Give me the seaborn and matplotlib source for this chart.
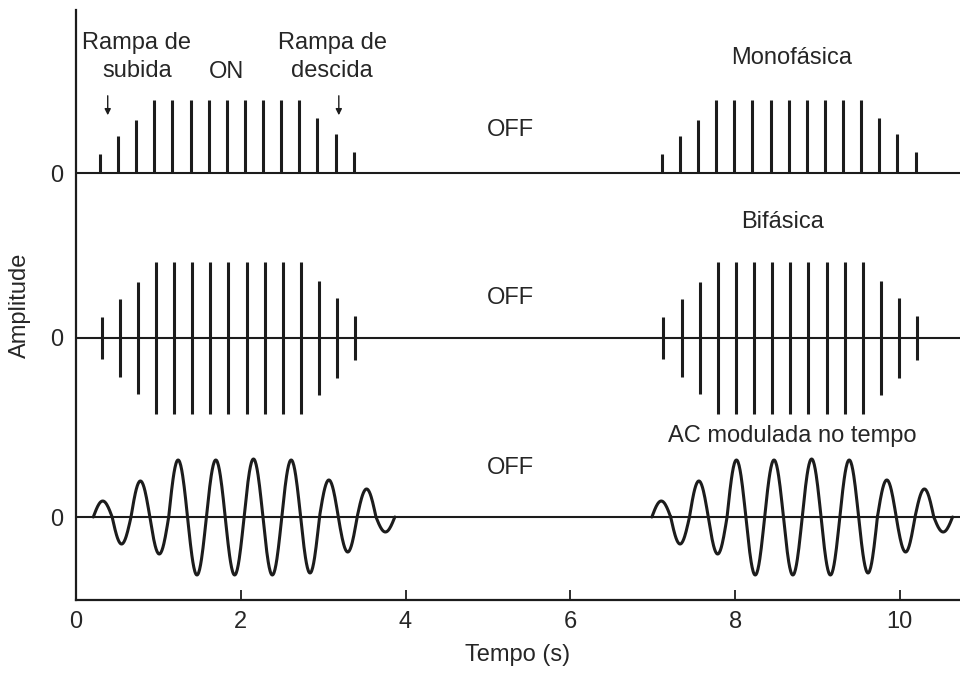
import numpy as np
import pandas as pd
import matplotlib
matplotlib.use('Agg')
import matplotlib.pyplot as plt
import seaborn as sns

# pulse times (s)
mono_left_t = [0.29, 0.51, 0.73, 0.95, 1.17, 1.39, 1.61, 1.83, 2.05, 2.27, 2.49, 2.71, 2.93, 3.15, 3.37]
mono_right_t = [7.11, 7.33, 7.55, 7.77, 7.99, 8.21, 8.43, 8.65, 8.87, 9.09, 9.31, 9.53, 9.75, 9.97, 10.19]
mono_h = [0.19, 0.37, 0.53, 0.73, 0.73, 0.73, 0.73, 0.73, 0.73, 0.73, 0.73, 0.73, 0.55, 0.39, 0.21]

bi_left_t = [0.31, 0.53, 0.75, 0.97, 1.19, 1.41, 1.63, 1.85, 2.07, 2.29, 2.51, 2.73, 2.95, 3.17, 3.39]
bi_right_t = [7.13, 7.35, 7.57, 7.79, 8.01, 8.23, 8.45, 8.67, 8.89, 9.11, 9.33, 9.55, 9.77, 9.99, 10.21]
bi_h = [0.21, 0.39, 0.56, 0.76, 0.76, 0.76, 0.76, 0.76, 0.76, 0.76, 0.76, 0.76, 0.57, 0.40, 0.22]

# AC burst: peak of each half cycle, start/end of each burst
ac_amp = [0.16, 0.27, 0.36, 0.37, 0.57, 0.58, 0.57, 0.58, 0.58, 0.58, 0.57, 0.56, 0.37, 0.35, 0.28, 0.15]
ac_start = [0.21, 6.99]
ac_end = [3.87, 10.64]

# trace baselines (amplitude axis offsets)
base_mono, base_bi, base_ac = 4.27, 2.62, 0.83
ink = '#1c1c1c'

sns.set_theme(style='ticks')
plt.rcParams['font.family'] = ['Liberation Sans', 'DejaVu Sans']

fig = plt.figure(figsize=(9.6, 6.73), dpi=100)
ax = fig.add_axes([76 / 960, 73 / 673, 884 / 960, 590 / 673])

# baselines
for b in (base_mono, base_bi, base_ac):
    ax.axhline(b, color=ink, lw=1.5, zorder=1)

# monophasic pulses
for t in (mono_left_t, mono_right_t):
    ax.vlines(t, base_mono, base_mono + np.array(mono_h), color=ink, lw=2.2)

# biphasic pulses
for t in (bi_left_t, bi_right_t):
    h = np.array(bi_h)
    ax.vlines(t, base_bi - h, base_bi + h, color=ink, lw=2.2)

# AC modulated bursts, one sine lobe per half cycle
rows = []
for i, (t0, t1) in enumerate(zip(ac_start, ac_end)):
    w = (t1 - t0) / len(ac_amp)
    for k, a in enumerate(ac_amp):
        tt = np.linspace(t0 + k * w, t0 + (k + 1) * w, 40)
        yy = (-1) ** k * a * np.sin(np.pi * (tt - (t0 + k * w)) / w)
        for x, y in zip(tt, yy):
            rows.append((i, x, y + base_ac))
ac = pd.DataFrame(rows, columns=['burst', 't', 'y'])
for i, g in ac.groupby('burst'):
    sns.lineplot(data=g, x='t', y='y', ax=ax, color=ink, lw=2.2,
                 sort=False, estimator=None)

# annotations
fs = 17
ax.text(0.74, 5.43, 'Rampa de\nsubida', ha='center', va='center', fontsize=fs, linespacing=1.4)
ax.text(1.83, 5.28, 'ON', ha='center', va='center', fontsize=fs)
ax.text(3.11, 5.43, 'Rampa de\ndescida', ha='center', va='center', fontsize=fs, linespacing=1.4)
for x in (0.385, 3.19):
    ax.annotate('', xy=(x, 4.82), xytext=(x, 5.07),
                arrowprops=dict(arrowstyle='-|>', color=ink, lw=1, mutation_scale=9))
ax.text(5.27, 4.70, 'OFF', ha='center', va='center', fontsize=fs)
ax.text(5.27, 3.02, 'OFF', ha='center', va='center', fontsize=fs)
ax.text(5.27, 1.32, 'OFF', ha='center', va='center', fontsize=fs)
ax.text(8.69, 5.42, 'Monofásica', ha='center', va='center', fontsize=fs)
ax.text(8.58, 3.78, 'Bifásica', ha='center', va='center', fontsize=fs)
ax.text(8.69, 1.64, 'AC modulada no tempo', ha='center', va='center', fontsize=fs)

# axes
ax.set_xlim(0, 10.73)
ax.set_ylim(0, 5.9)
ax.set_xticks([0, 2, 4, 6, 8, 10])
ax.set_yticks([base_mono, base_bi, base_ac])
ax.set_yticklabels(['0', '0', '0'])
ax.tick_params(axis='x', direction='in', length=7, width=1.3, labelsize=fs, pad=8, color=ink)
ax.tick_params(axis='y', length=0, labelsize=fs, pad=9)
ax.set_xlabel('Tempo (s)', fontsize=fs, labelpad=8)
ax.set_ylabel('Amplitude', fontsize=fs, labelpad=14)
sns.despine(ax=ax)
for s in ('left', 'bottom'):
    ax.spines[s].set_linewidth(1.6)
    ax.spines[s].set_color(ink)

fig.savefig('out.png', dpi=100)
